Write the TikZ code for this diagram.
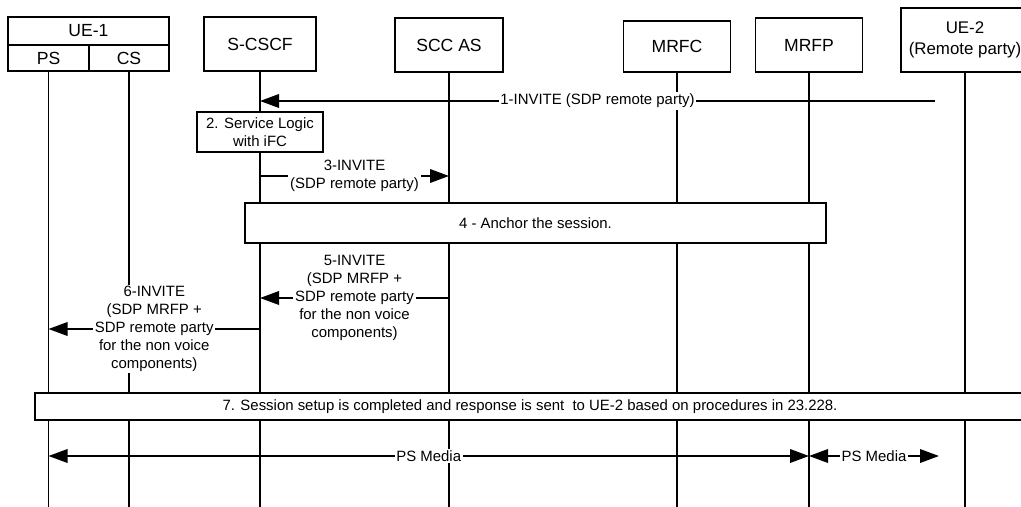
\documentclass[tikz,border=0pt]{standalone}
\usepackage{fontspec}
\setmainfont{Liberation Sans}
\usepackage{tikz}
\usetikzlibrary{arrows.meta,positioning,calc}
\tikzset{>={Triangle[length=0.38cm,width=0.27cm]}}
\tikzset{
  entity/.style={draw, fill=white, line width=0.6pt, align=center, inner sep=0pt, font=\fontsize{10}{12}\selectfont},
  life/.style={line width=0.6pt},
  msg/.style={->, line width=1.1pt},
  lbl/.style={fill=white, align=center, inner sep=1pt, font=\fontsize{8.5}{10.2}\selectfont},
  note/.style={draw, fill=white, line width=0.6pt, align=center, inner sep=0pt, font=\fontsize{8.5}{10.2}\selectfont}
}

\begin{document}
\begin{tikzpicture}
\useasboundingbox (0,0) rectangle (20.42,-10.14);
\node[entity, minimum width=3.22cm, minimum height=0.56cm] (ue1) at (1.77,-0.62) {UE-1};
\node[entity, minimum width=1.62cm, minimum height=0.52cm] (ps) at (0.97,-1.16) {PS};
\node[entity, minimum width=1.60cm, minimum height=0.52cm] (cs) at (2.58,-1.16) {CS};
\node[entity, minimum width=2.24cm, minimum height=1.08cm] (scscf) at (5.20,-0.88) {S-CSCF};
\node[entity, minimum width=2.16cm, minimum height=1.08cm] (sccas) at (8.98,-0.90) {SCC AS};
\node[entity, minimum width=2.14cm, minimum height=1.02cm] (mrfc) at (13.54,-0.93) {MRFC};
\node[entity, minimum width=2.14cm, minimum height=1.08cm] (mrfp) at (16.18,-0.90) {MRFP};
\node[entity, minimum width=2.56cm, minimum height=1.28cm, font=\fontsize{9.6}{12}\selectfont] (ue2) at (19.30,-0.80) {UE-2\\(Remote party)};

\coordinate (bot) at (0,-10.2);
\foreach \n in {ps,cs,scscf,sccas,mrfc,mrfp,ue2}
  \draw[life] (\n) -- (\n |- bot);

\coordinate (m1) at (18.70,-2.02);
\draw[msg] (m1) -- node[lbl] {1-INVITE (SDP remote party)} (scscf |- m1);
\node[note, minimum width=2.52cm, minimum height=0.80cm] (slogic) at (5.20,-2.64) {2. Service Logic\\with iFC};
\coordinate (m3) at (0,-3.52);
\draw[msg] (scscf |- m3) -- node[lbl] {3-INVITE\\(SDP remote party)} (sccas |- m3);
\node[note, minimum width=11.62cm, minimum height=0.80cm] (anchor) at (10.71,-4.46) {4 - Anchor the session.};
\coordinate (m5) at (0,-5.96);
\draw[msg] (sccas |- m5) -- node[lbl] {5-INVITE\\(SDP MRFP +\\SDP remote party\\for the non voice\\components)} (scscf |- m5);
\coordinate (m6) at (0,-6.58);
\draw[msg] (scscf |- m6) -- node[lbl] {6-INVITE\\(SDP MRFP +\\SDP remote party\\for the non voice\\components)} (ps |- m6);
\node[note, minimum width=19.80cm, minimum height=0.54cm] (done) at (10.60,-8.13) {7. Session setup is completed and response is sent\ \ to UE-2 based on procedures in 23.228.};
\coordinate (m8) at (0,-9.12);
\draw[msg, <->] (ps |- m8) -- node[lbl] {PS Media} (mrfp |- m8);
\coordinate (m9) at (18.78,-9.12);
\draw[msg, <->] (mrfp |- m8) -- node[lbl] {PS Media} (m9);
\end{tikzpicture}
\end{document}
